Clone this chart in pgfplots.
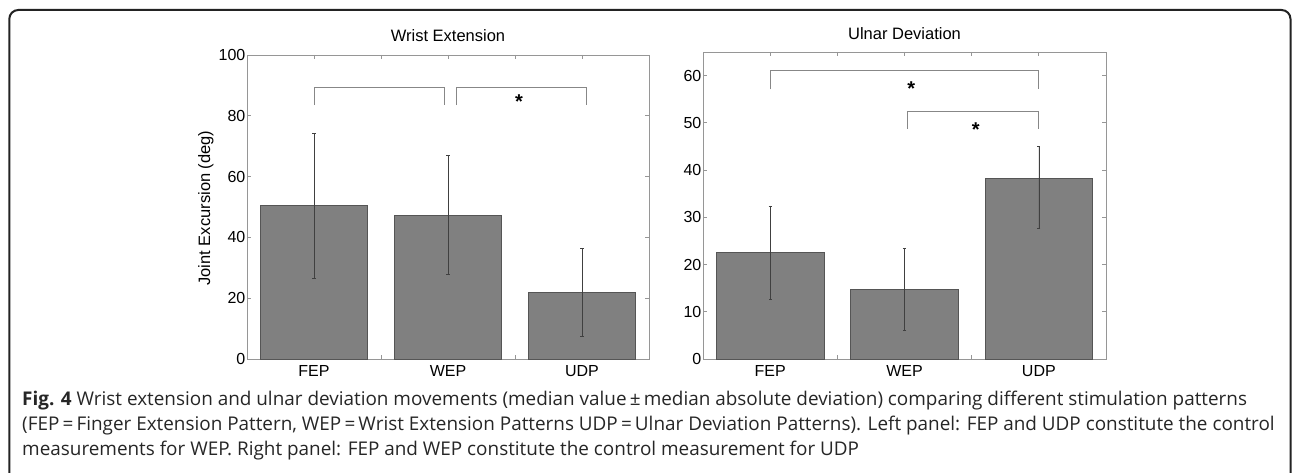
\documentclass[border=0pt]{standalone}
\usepackage{fontspec}
\setmainfont{Liberation Sans}
\newfontfamily\capfont{Open Sans}
\usepackage{pgfplots}
\pgfplotsset{compat=1.18}
\definecolor{axgray}{RGB}{150,150,150}
\definecolor{barfill}{RGB}{128,128,128}
\definecolor{baredge}{RGB}{85,85,85}
\definecolor{brgray}{RGB}{135,135,135}
\definecolor{frame}{RGB}{35,35,35}
\pgfplotsset{
  panel/.style={
    anchor=south west, scale only axis,
    xmin=0.5, xmax=3.5, ymin=0,
    xtick={1,1.5,2,2.5,3}, xticklabels={FEP,,WEP,,UDP},
    tick align=inside, major tick length=4pt,
    axis line style={draw=axgray, line width=0.8pt},
    every tick/.style={draw=axgray, line width=0.8pt},
    ticklabel style={font=\fontsize{16}{19}\selectfont},
    /pgf/number format/assume math mode=true,
    yticklabel style={inner sep=1.5pt},
    xticklabel style={inner sep=0pt, yshift=-6.5pt},
    clip=false,
    every axis title shift=0pt,
    title style={font=\fontsize{16.5}{19}\selectfont, at={(0.5,1)}, anchor=base},
  },
  bars/.style={ybar, bar width=0.8, fill=barfill, draw=baredge, line width=0.7pt,
    error bars/.cd, y dir=both, y explicit,
    error bar style={line width=0.6pt, color=black!75},
    error mark options={rotate=90, mark size=1.6pt, line width=0.6pt, color=black!75}},
  bracket/.style={draw=brgray, line width=0.9pt, no marks, sharp plot, forget plot},
}
\newcommand{\sigstar}[1]{\node[anchor=base, font=\bfseries\fontsize{20}{22}\selectfont] at (axis cs:#1) {*};}
\begin{document}
\begin{tikzpicture}
\useasboundingbox (0pt,0pt) rectangle (1292pt,472pt);
\draw[line width=2pt, color=frame, rounded corners=9pt] (9.3pt,-10pt) -- (9.3pt,462pt) -- (1290.5pt,462pt) -- (1290.5pt,-10pt);

% Left panel
\begin{axis}[panel, at={(247pt,113pt)}, width=402pt, height=304pt,
  ymax=100, ytick={0,20,...,100},
  title={Wrist Extension}, title style={yshift=13.7pt}]
\addplot[bars] coordinates {
  (1,50.4) += (0,23.8) -= (0,23.9)
  (2,47.3) += (0,19.6) -= (0,19.3)
  (3,21.9) += (0,14.4) -= (0,14.3)
};
\addplot[bracket] coordinates {(1,83.5) (1,89.2) (1.97,89.2) (1.97,83.5)};
\addplot[bracket] coordinates {(2.06,83.5) (2.06,89.2) (3.03,89.2) (3.03,83.5)};
\sigstar{2.53,82.3}
\end{axis}
\node[rotate=90, anchor=base, font=\fontsize{16.5}{19}\selectfont] at (210pt,264pt) {Joint Excursion (deg)};

% Right panel
\begin{axis}[panel, at={(703pt,113pt)}, width=403pt, height=307pt,
  ymax=65, ytick={0,10,...,60},
  title={Ulnar Deviation}, title style={yshift=12.3pt}]
\addplot[bars] coordinates {
  (1,22.6) += (0,9.8) -= (0,10.0)
  (2,14.7) += (0,8.7) -= (0,8.7)
  (3,38.2) += (0,6.8) -= (0,10.5)
};
\addplot[bracket] coordinates {(1,57.1) (1,61.1) (3,61.1) (3,57.1)};
\addplot[bracket] coordinates {(2.02,48.7) (2.02,52.5) (3,52.5) (3,48.7)};
\sigstar{2.05,55.8}
\sigstar{2.53,47.2}
\end{axis}

% Caption
\begin{scope}[every node/.style={anchor=base west, inner sep=0pt, font=\capfont\fontsize{18.9}{22}\selectfont, text=black!85}]
\node at (22pt,67pt) {\textbf{Fig. 4} Wrist extension and ulnar deviation movements (median value\,±\,median absolute deviation) comparing different stimulation patterns};
\node at (22pt,42pt) {(FEP\,=\,Finger Extension Pattern, WEP\,=\,Wrist Extension Patterns UDP\,=\,Ulnar Deviation Patterns). Left panel: FEP and UDP constitute the control};
\node at (22pt,16.5pt) {measurements for WEP. Right panel: FEP and WEP constitute the control measurement for UDP};
\end{scope}
\end{tikzpicture}
\end{document}
